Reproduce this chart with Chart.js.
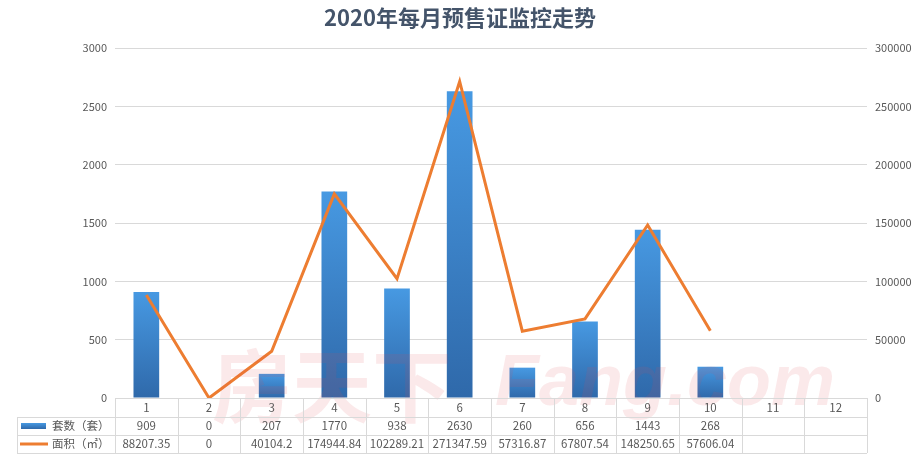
<!DOCTYPE html>
<html>
<head>
<meta charset="utf-8">
<script src="https://cdn.jsdelivr.net/npm/chart.js@4/dist/chart.umd.min.js"></script>
<style>
  body { margin: 0; background: #fff; }
  #wrap { width: 920px; height: 463px; position: relative; }
</style>
</head>
<body>
<div id="wrap"><canvas id="chart"></canvas></div>
<script>
// 月份 / 数据
const months = ['1', '2', '3', '4', '5', '6', '7', '8', '9', '10', '11', '12'];
const units = [909, 0, 207, 1770, 938, 2630, 260, 656, 1443, 268, null, null];
const areas = [88207.35, 0, 40104.2, 174944.84, 102289.21, 271347.59, 57316.87, 67807.54, 148250.65, 57606.04, null, null];
const unitTicks = [0, 500, 1000, 1500, 2000, 2500, 3000];
const areaTicks = [0, 50000, 100000, 150000, 200000, 250000, 300000];
const seriesNames = ['套数（套）', '面积（㎡）'];

const FONT = '"Noto Sans CJK SC", "Noto Sans", sans-serif';
const TEXT = '#595959';
const GRID = '#d9d9d9';
const BLUE = '#3a80c8';
const ORANGE = '#ED7D31';

// bar gradient, light at top, darker at the bottom
function barFill(ctx) {
  const c = ctx.chart;
  if (!c.chartArea || !ctx.raw) return BLUE;
  const y = c.scales.y;
  const top = y.getPixelForValue(ctx.raw);
  const bot = y.getPixelForValue(0);
  const g = c.ctx.createLinearGradient(0, top, 0, bot);
  g.addColorStop(0, '#4799e2');
  g.addColorStop(1, '#2f69aa');
  return g;
}

// watermark + data table under the plot
const tablePlugin = {
  id: 'tablePlugin',
  afterDraw(chart) {
    const ctx = chart.ctx;
    const x = chart.scales.x;
    const area = chart.chartArea;
    const step = (area.right - area.left) / months.length;
    const rows = [area.bottom, 417, 435, 453];

    // watermark
    ctx.save();
    ctx.globalAlpha = 0.12;
    ctx.fillStyle = '#e0464f';
    ctx.textBaseline = 'alphabetic';
    ctx.font = 'bold 80px "Noto Sans CJK SC"';
    ctx.fillText('房天下', 212, 416);
    ctx.font = 'italic bold 72px "Liberation Sans"';
    ctx.fillText('Fang.com', 495, 405);
    ctx.restore();

    ctx.save();
    ctx.strokeStyle = GRID;
    ctx.lineWidth = 1;
    ctx.beginPath();
    // horizontal lines
    ctx.moveTo(area.left, rows[0] + 0.5); ctx.lineTo(area.right, rows[0] + 0.5);
    for (let r = 1; r < rows.length; r++) {
      ctx.moveTo(17, rows[r] + 0.5); ctx.lineTo(area.right, rows[r] + 0.5);
    }
    // vertical lines
    ctx.moveTo(17.5, rows[1]); ctx.lineTo(17.5, rows[3]);
    for (let i = 0; i <= months.length; i++) {
      const px = Math.round(area.left + i * step) + 0.5;
      ctx.moveTo(px, rows[0]); ctx.lineTo(px, rows[3]);
    }
    ctx.stroke();

    // legend keys
    const g = ctx.createLinearGradient(0, 423, 0, 429);
    g.addColorStop(0, '#4799e2');
    g.addColorStop(1, '#2f69aa');
    ctx.fillStyle = g;
    ctx.fillRect(21, 423, 25, 6);
    ctx.strokeStyle = ORANGE;
    ctx.lineWidth = 3;
    ctx.beginPath();
    ctx.moveTo(20, 444); ctx.lineTo(48, 444);
    ctx.stroke();

    ctx.fillStyle = TEXT;
    ctx.font = '11.5px ' + FONT;
    ctx.textBaseline = 'middle';
    ctx.textAlign = 'left';
    ctx.fillText(seriesNames[0], 52, 426);
    ctx.fillText(seriesNames[1], 52, 444);

    ctx.textAlign = 'center';
    months.forEach((m, i) => {
      const cx = x.getPixelForValue(i);
      ctx.fillText(m, cx, 408);
      if (units[i] !== null) ctx.fillText(String(units[i]), cx, 426);
      if (areas[i] !== null) ctx.fillText(String(areas[i]), cx, 444);
    });
    ctx.restore();
  }
};

const chart = new Chart(document.getElementById('chart'), {
  type: 'bar',
  data: {
    labels: months,
    datasets: [
      {
        type: 'line',
        label: seriesNames[1],
        data: areas,
        yAxisID: 'y1',
        borderColor: ORANGE,
        borderWidth: 3,
        pointRadius: 0,
        tension: 0,
        order: 0
      },
      {
        label: seriesNames[0],
        data: units,
        yAxisID: 'y',
        backgroundColor: barFill,
        categoryPercentage: 1,
        barPercentage: 0.41,
        order: 1
      }
    ]
  },
  options: {
    responsive: true,
    maintainAspectRatio: false,
    animation: false,
    layout: { padding: { left: 0, right: 0, top: 0, bottom: 65 } },
    plugins: {
      legend: { display: false },
      tooltip: { enabled: false },
      title: {
        display: true,
        text: '2020年每月预售证监控走势',
        color: '#44546A',
        font: { family: FONT, size: 22, weight: 'bold' },
        padding: { top: 4, bottom: 17.6 }
      }
    },
    scales: {
      x: { display: false },
      y: {
        position: 'left',
        min: 0,
        max: 3000,
        afterBuildTicks(s) { s.ticks = unitTicks.map(v => ({ value: v })); },
        afterFit(s) { s.width = 115; },
        border: { display: false },
        grid: { color: GRID, drawTicks: false },
        ticks: { color: TEXT, padding: 8, font: { family: FONT, size: 11 }, callback: v => String(v) }
      },
      y1: {
        position: 'right',
        min: 0,
        max: 300000,
        afterBuildTicks(s) { s.ticks = areaTicks.map(v => ({ value: v })); },
        afterFit(s) { s.width = 53; },
        border: { display: false },
        grid: { display: false, drawTicks: false },
        ticks: { color: TEXT, padding: 8, font: { family: FONT, size: 11 }, callback: v => String(v) }
      }
    }
  },
  plugins: [tablePlugin]
});
</script>
</body>
</html>
